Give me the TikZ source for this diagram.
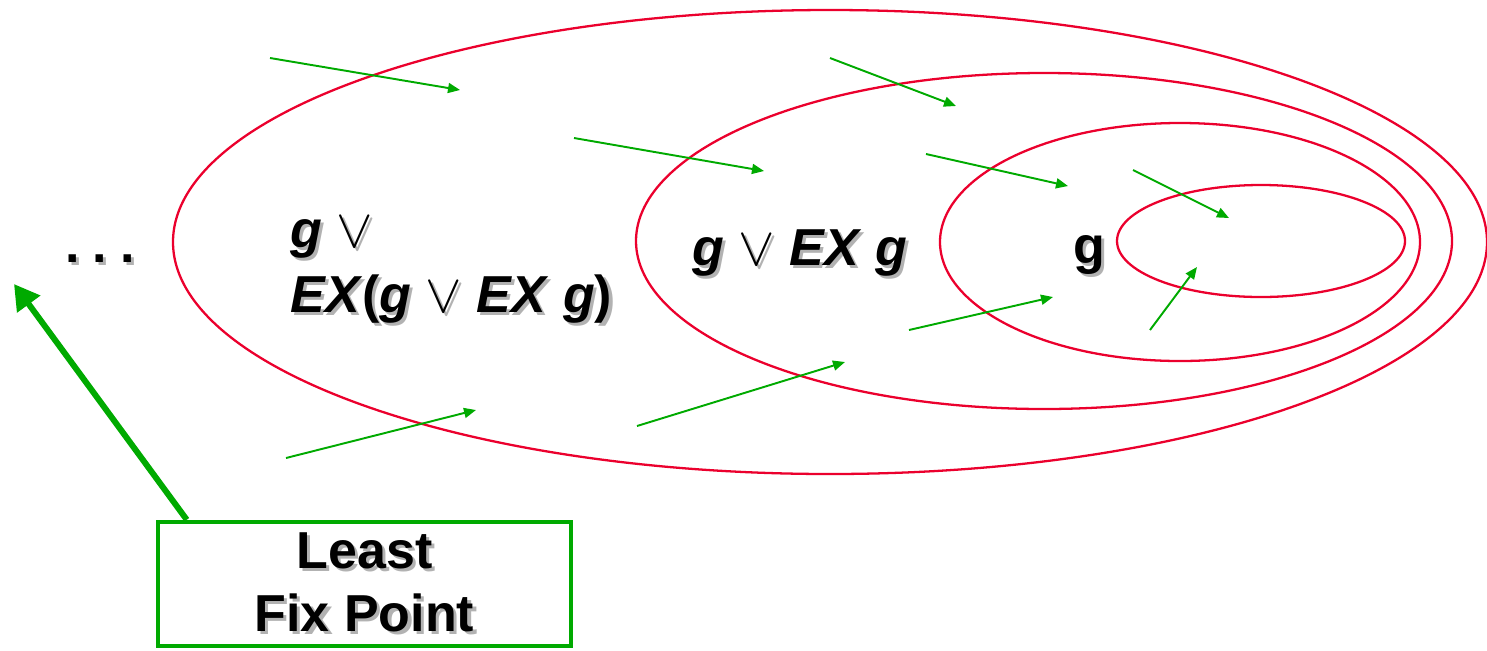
\documentclass[tikz,border=0pt]{standalone}
\usepackage{fontspec}
\setmainfont{Liberation Sans}
\usepackage{tikz}
\usetikzlibrary{arrows.meta, positioning}
\definecolor{setred}{RGB}{235,0,45}
\definecolor{stepgreen}{RGB}{0,170,0}
\newcommand{\shd}[1]{\rlap{\kern0.06em\raisebox{-0.06em}{\textcolor{black!30}{#1}}}#1}
\newcommand{\gv}{\textit{g}}
\newcommand{\ex}{\textit{EX}}
\newcommand{\orop}{\scalebox{1.25}{$\vee$}}
\tikzset{
    setring/.style={draw=setred, line width=1.3pt},
    stepline/.style={draw=stepgreen, line width=1.1pt, -{Triangle[length=0.24cm, width=0.2cm]}},
    bigarrow/.style={draw=stepgreen, line width=3.4pt, -{Triangle[length=0.5cm, width=0.55cm]}},
    setlabel/.style={font=\fontsize{29.6}{37}\selectfont\bfseries, inner sep=0pt, align=left},
    fixbox/.style={draw=stepgreen, line width=2.6pt, minimum width=8.26cm, minimum height=2.48cm,
        align=center, font=\fontsize{29.6}{36}\selectfont\bfseries}
}

\begin{document}
\begin{tikzpicture}[x=0.02cm, y=-0.02cm]
        \useasboundingbox (0,0) rectangle (1487,650);

        % nested sets
        \draw[setring] (830,242) ellipse [x radius=657, y radius=232];
        \draw[setring] (1044,241) ellipse [x radius=408, y radius=168];
        \draw[setring] (1180,242) ellipse [x radius=240, y radius=119];
        \draw[setring] (1261,241) ellipse [x radius=144, y radius=56];

        % EX steps
        \foreach \xa/\ya/\xb/\yb in {270/58/460/90, 574/138/764/171, 830/58/956/106,
                                     926/154/1068/186, 1133/170/1229/218, 286/458/476/410,
                                     637/426/845/362, 909/330/1053/297, 1150/330/1197/267}
            \draw[stepline] (\xa,\ya) -- (\xb,\yb);

        % labels
        \node[setlabel, anchor=base west] (dots) at (65,262)
            {\shd{.\hspace{0.25em}.\hspace{0.25em}.}};
        \node[setlabel, anchor=base west] (third) at (290,312)
            {\shd{\gv\ \orop}\\\shd{\ex(\gv\ \orop\ \ex\ \gv)}};
        \node[setlabel, anchor=base west] (second) at (692,265) {\shd{\gv\ \orop\ \ex\ \gv}};
        \node[setlabel, anchor=base west] (first) at (1073,263) {\shd{g}};

        % fix point
        \node[fixbox] (lfp) at (364.5,584) {\rule{0pt}{0.2cm}\shd{Least}\\\shd{Fix Point}};
        \coordinate (tip) at (14,284);
        \draw[bigarrow] ([xshift=0.62cm]lfp.north west) -- (tip);
    \end{tikzpicture}
\end{document}
